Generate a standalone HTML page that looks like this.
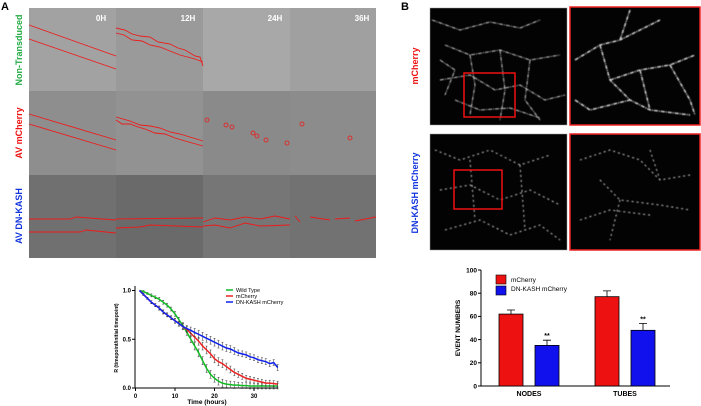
<!DOCTYPE html>
<html><head><meta charset="utf-8">
<style>
html,body{margin:0;padding:0;background:#fff;}
body{width:701px;height:406px;position:relative;overflow:hidden;font-family:"Liberation Sans",sans-serif;}
svg{position:absolute;left:0;top:0;}
</style></head>
<body>
<svg id="fig" width="701" height="406" viewBox="0 0 701 406">
<defs>
<filter id="glow" x="-10%" y="-10%" width="120%" height="120%"><feGaussianBlur stdDeviation="0.4"/></filter>
</defs>
<g>
<text x="1" y="10" font-size="11" font-weight="bold">A</text>
<g id="grid"></g>
<text transform="translate(22,50) rotate(-90)" text-anchor="middle" font-size="9" font-weight="bold" fill="#22aa44">Non-Transduced</text>
<text transform="translate(22,133) rotate(-90)" text-anchor="middle" font-size="9" font-weight="bold" fill="#ee1111">AV mCherry</text>
<text transform="translate(22,216) rotate(-90)" text-anchor="middle" font-size="9" font-weight="bold" fill="#1133dd">AV DN-KASH</text>
</g>
<g>
<text x="401" y="10" font-size="11" font-weight="bold">B</text>
<text transform="translate(418,66) rotate(-90)" text-anchor="middle" font-size="9" font-weight="bold" fill="#ee1111">mCherry</text>
<text transform="translate(418,193) rotate(-90)" text-anchor="middle" font-size="9" font-weight="bold" fill="#1133dd">DN-KASH mCherry</text>
<g id="micro"></g>
</g>
<g id="line"></g>
<g id="bar"></g>
</svg>
<script>
// ---- line chart data ----
const hours = [1,2,3,4,5,6,7,8,9,10,11,12,13,14,15,16,17,18,19,20,21,22,23,24,25,26,27,28,29,30,31,32,33,34,35,36];
const wildType = [1.0,0.99,0.97,0.95,0.93,0.91,0.88,0.85,0.81,0.76,0.70,0.64,0.57,0.50,0.43,0.36,0.28,0.20,0.14,0.10,0.07,0.05,0.04,0.035,0.03,0.03,0.025,0.025,0.02,0.02,0.02,0.02,0.02,0.02,0.02,0.02];
const mCherryLine = [1.0,0.96,0.92,0.88,0.85,0.82,0.78,0.75,0.72,0.69,0.66,0.63,0.60,0.56,0.52,0.48,0.43,0.39,0.35,0.30,0.27,0.25,0.22,0.19,0.16,0.14,0.12,0.10,0.09,0.08,0.07,0.06,0.05,0.05,0.045,0.04];
const dnKashLine = [1.0,0.96,0.92,0.88,0.85,0.82,0.78,0.75,0.72,0.69,0.66,0.63,0.61,0.59,0.57,0.55,0.53,0.51,0.49,0.47,0.45,0.43,0.41,0.40,0.38,0.36,0.35,0.34,0.32,0.31,0.29,0.28,0.27,0.25,0.26,0.21];
const lineErr = [0,0.01,0.01,0.015,0.015,0.02,0.02,0.02,0.02,0.025,0.025,0.03,0.03,0.035,0.04,0.04,0.04,0.04,0.04,0.04,0.04,0.04,0.035,0.035,0.035,0.03,0.03,0.03,0.03,0.03,0.03,0.03,0.03,0.03,0.03,0.03];
const xTicks = [0,10,20,30];
const yTicks = [0.0,0.5,1.0];
// ---- bar chart data ----
const barGroups = ["NODES","TUBES"];
const barMCherry = [62,77];
const barDnKash = [35,48];
const errMCherry = [3.5,5];
const errDnKash = [4.5,6];
const barTicks = [0,20,40,60,80,100];

const NS="http://www.w3.org/2000/svg";
function mk(parent,tag,attrs,text){const e=document.createElementNS(NS,tag);for(const k in attrs)e.setAttribute(k,attrs[k]);if(text!==undefined)e.textContent=text;parent.appendChild(e);return e;}

// ---- panel A grid ----
const grid=document.getElementById('grid');
const gx=[29,116,203,290,376], gy=[8,91,175,258];
const shades=[["#a2a2a2","#9a9a9a","#a8a8a8","#a0a0a0"],["#8e8e8e","#929292","#8a8a8a","#8c8c8c"],["#707070","#6a6a6a","#767676","#727272"]];
for(let r=0;r<3;r++)for(let c=0;c<4;c++){
  const t=mk(grid,'rect',{x:gx[c],y:gy[r],width:gx[c+1]-gx[c],height:gy[r+1]-gy[r],fill:shades[r][c]});
  
  
}
["0H","12H","24H","36H"].forEach((s,i)=>{const t=mk(grid,'text',{x:gx[i]+72,y:21,'font-size':8,'font-weight':'bold',fill:'#fff','text-anchor':'middle'},s);

});
const redPaths=[
"M29,25 L116,56","M29,39 L116,69",
"M116,28 L125,30 L132,34 L140,36 L150,37 L158,42 L170,44 L178,48 L185,50 L195,56 L200,57 L203,66","M116,33 L124,35 L132,40 L142,41 L150,45 L160,47 L170,51 L180,55 L195,59 L203,62",
"M29,114 L116,140","M29,124 L116,150",
"M116,117 L130,121 L140,125 L150,126 L160,128 L170,132 L180,134 L203,141","M116,120 L122,124 L130,124 L138,127 L145,129 L155,133 L165,134 L175,138 L185,141 L203,146",
"M29,219 L70,219 L76,217 L116,220","M29,232 L80,232 L86,230 L116,233",
"M116,219 L203,218","M116,228 L140,227 L150,225 L203,227",
"M203,222 L215,218 L230,220 L245,217 L260,219 L275,216 L290,219","M203,226 L215,225 L230,228 L245,223 L260,226 L290,225",
"M295,216 L300,222 M310,217 L330,220 M335,219 L350,218 M355,221 L376,217"];
redPaths.forEach((d,i)=>{const p=mk(grid,'path',{d:d,stroke:'#ee1a1a','stroke-width':0.9,fill:'none'});

});
[[207,120],[226,125],[232,127],[253,133],[257,136],[266,140],[287,143],[302,124],[350,138]].forEach(([x,y],i)=>{const c=mk(grid,'circle',{cx:x,cy:y,r:2,stroke:'#ee1a1a','stroke-width':0.8,fill:'none'});

});

// ---- panel B micrographs ----
const micro=document.getElementById('micro');
const boxes=[[430,8,137,117,false],[570,7,130,118,true],[430,134,137,116,false],[570,134,130,116,true]];
boxes.forEach((b,i)=>{const r=mk(micro,'rect',{x:b[0],y:b[1],width:b[2],height:b[3],fill:'#030303',stroke:b[4]?'#ee2222':'#999','stroke-width':b[4]?1.5:0.5});

});
const net1="M432,20 L460,30 L490,22 L520,28 L540,20 M445,45 L470,55 L500,50 L530,60 L560,55 M440,80 L470,75 L495,90 L520,85 L545,100 L565,95 M470,55 L475,85 L470,115 M500,50 L505,90 L500,120 M530,60 L525,100 L540,120 M455,100 L480,110 L510,108 L540,118 M440,60 L455,70 L445,95";
const net2="M575,60 L600,45 L620,40 L640,30 L660,20 M600,45 L610,80 L630,100 L650,110 L690,115 M610,80 L640,70 L670,65 L695,55 M640,70 L650,110 M575,100 L590,110 L630,100 M670,65 L690,100 L695,115 M620,40 L630,10";
const net3="M435,150 L460,160 L490,150 L520,165 L550,155 M440,190 L470,185 L500,200 L530,190 L560,205 M445,230 L480,220 L510,235 L540,225 L560,240 M470,160 L475,220 M520,165 L525,230";
const net4="M580,160 L610,150 L640,160 L660,180 L690,175 M600,180 L620,200 L660,205 L690,210 M580,220 L610,210 L650,215 M620,200 L610,240 M650,150 L660,180";
[net1,net2,net3,net4].forEach((d,i)=>{const p=mk(micro,'path',{d:d,stroke:'#dddddd','stroke-width':i===1?1.4:0.9,fill:'none',filter:'url(#glow)','stroke-dasharray':i>=2?'2 3':'4 1 1 1'});

});
[[464,73,51,44],[454,170,48,39]].forEach((b,i)=>{const r=mk(micro,'rect',{x:b[0],y:b[1],width:b[2],height:b[3],fill:'none',stroke:'#ee1111','stroke-width':1.5});

});

// ---- line chart ----
const L=document.getElementById('line');
const lx=h=>135.5+h*3.95, ly=v=>388-v*97.5;
mk(L,'line',{x1:135,y1:388,x2:278,y2:388,stroke:'#000','stroke-width':1});
mk(L,'line',{x1:135,y1:286,x2:135,y2:388,stroke:'#000','stroke-width':1});
xTicks.forEach(t=>{mk(L,'line',{x1:lx(t),y1:388,x2:lx(t),y2:391,stroke:'#000'});
const e=mk(L,'text',{x:lx(t),y:398,'font-size':6,'font-weight':'bold','text-anchor':'middle'},String(t));

});
yTicks.forEach(t=>{mk(L,'line',{x1:132,y1:ly(t),x2:135,y2:ly(t),stroke:'#000'});
const e=mk(L,'text',{x:131,y:ly(t)+2,'font-size':6,'font-weight':'bold','text-anchor':'end'},t.toFixed(1));

});
const xt=mk(L,'text',{x:207,y:404,'font-size':6.5,'font-weight':'bold','text-anchor':'middle'},'Time (hours)');


const yt=mk(L,'text',{transform:'translate(118,338) rotate(-90)','font-size':5,'font-weight':'bold','text-anchor':'middle'},'R (timepoint/initial timepoint)');


const seriesL=[[wildType,'#11bb22','wild-type'],[mCherryLine,'#ee2222','mcherry'],[dnKashLine,'#1122ee','dn-kash-mcherry']];
seriesL.forEach(([vals,col,name])=>{
  hours.forEach((h,i)=>{if(lineErr[i]>0){const e=mk(L,'path',{d:`M${lx(h)},${ly(vals[i]-lineErr[i])}V${ly(vals[i]+lineErr[i])}M${lx(h)-1},${ly(vals[i]-lineErr[i])}h2M${lx(h)-1},${ly(vals[i]+lineErr[i])}h2`,stroke:'#333','stroke-width':0.5,fill:'none'});
  
  }});
  const p=mk(L,'polyline',{points:hours.map((h,i)=>lx(h)+','+ly(vals[i])).join(' '),stroke:col,'stroke-width':1.5,fill:'none'});
  
  
});
['Wild Type','mCherry','DN-KASH mCherry'].forEach((s,i)=>{mk(L,'line',{x1:226,y1:290+i*6,x2:233,y2:290+i*6,stroke:seriesL[i][1],'stroke-width':1.5});
const t=mk(L,'text',{x:236,y:292+i*6,'font-size':5.5},s);

});

// ---- bar chart ----
const B=document.getElementById('bar');
const by=v=>386-v*1.16;
mk(B,'line',{x1:481,y1:386,x2:670,y2:386,stroke:'#000','stroke-width':1});
mk(B,'line',{x1:481,y1:270,x2:481,y2:386,stroke:'#000','stroke-width':1});
barTicks.forEach(t=>{mk(B,'line',{x1:478,y1:by(t),x2:481,y2:by(t),stroke:'#000'});
const e=mk(B,'text',{x:477,y:by(t)+2.3,'font-size':6.5,'font-weight':'bold','text-anchor':'end'},String(t));

});
const byt=mk(B,'text',{transform:'translate(460,328) rotate(-90)','font-size':6.5,'font-weight':'bold','text-anchor':'middle'},'EVENT NUMBERS');


const gStart=[499,595];
barGroups.forEach((g,i)=>{
  [[barMCherry,errMCherry,'#ee1111',0,'mcherry'],[barDnKash,errDnKash,'#1111ee',36,'dn-kash']].forEach(([vals,errs,col,off,nm])=>{
    const x=gStart[i]+off,v=vals[i];
    const r=mk(B,'rect',{x:x,y:by(v),width:24,height:386-by(v),fill:col,stroke:'#000','stroke-width':0.8});
    
    
    mk(B,'path',{d:`M${x+12},${by(v)}V${by(v+errs[i])}M${x+8},${by(v+errs[i])}h8`,stroke:'#000','stroke-width':0.8,fill:'none'});
    if(nm==='dn-kash'){const s=mk(B,'text',{x:x+12,y:by(v+errs[i])-2,'font-size':7,'font-weight':'bold','text-anchor':'middle'},'**');
    
    }
  });
  const t=mk(B,'text',{x:gStart[i]+30,y:396,'font-size':7,'font-weight':'bold','text-anchor':'middle'},g);
  
  
});
[['mCherry','#ee1111'],['DN-KASH mCherry','#1111ee']].forEach(([s,c],i)=>{mk(B,'rect',{x:496,y:275+i*11,width:10,height:9,fill:c,stroke:'#000','stroke-width':0.6});
const t=mk(B,'text',{x:511,y:282+i*9,'font-size':6.5},s);

});
</script>
</body></html>
